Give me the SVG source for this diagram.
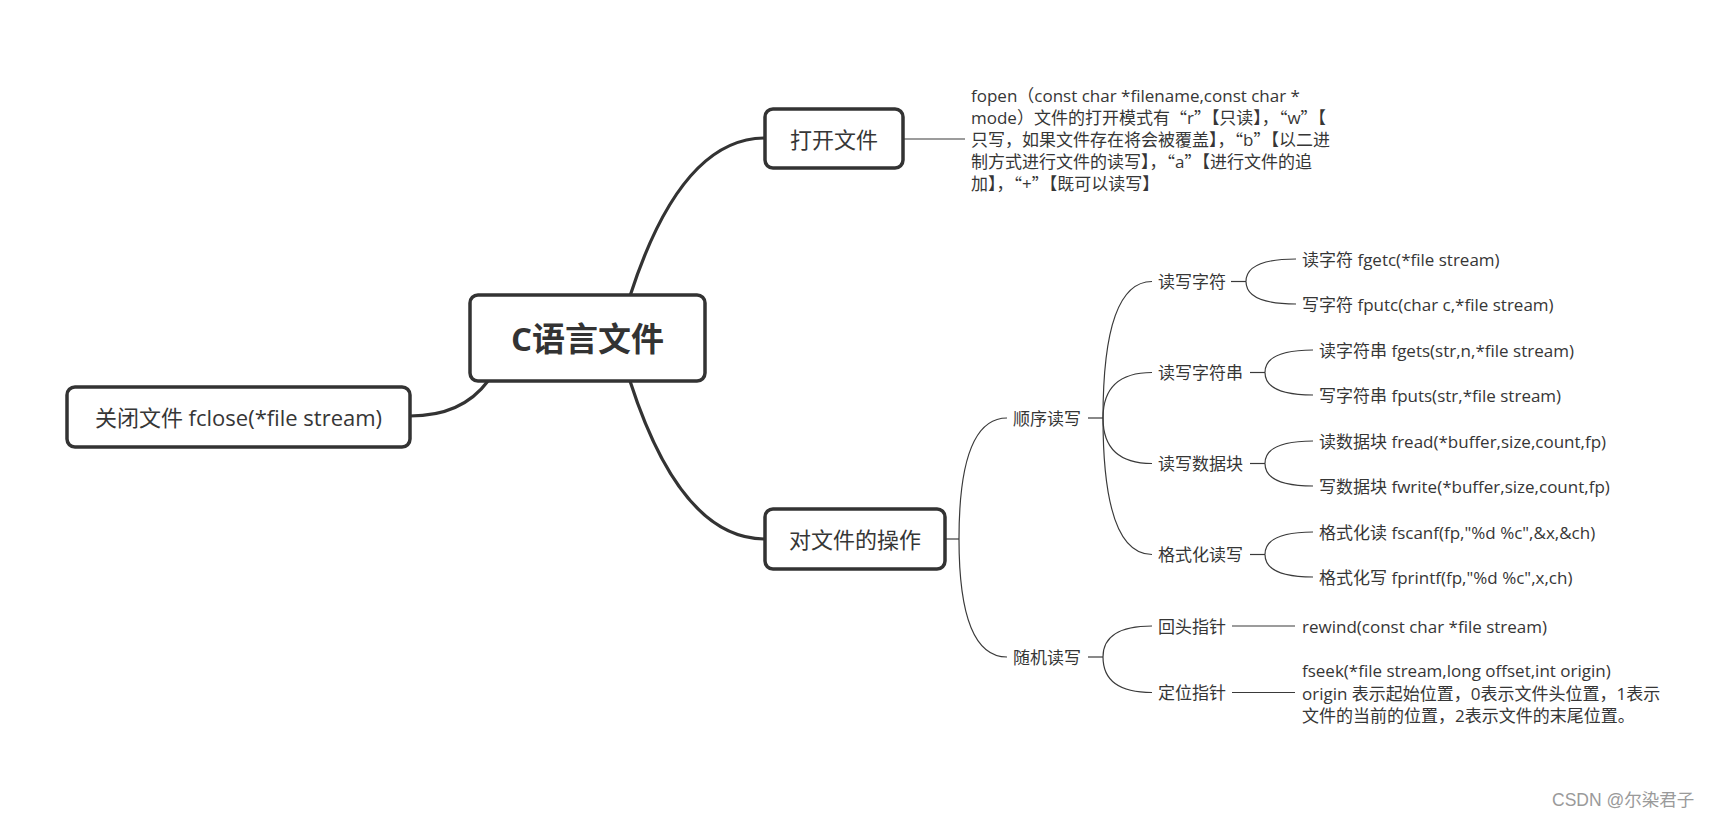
<svg xmlns="http://www.w3.org/2000/svg" width="1718" height="818" viewBox="0 0 1718 818">
<style>
text{font-family:"Open Sans","Noto Sans CJK SC",sans-serif;fill:#363636;dominant-baseline:central}
.q{font-family:"Noto Sans CJK SC",sans-serif}
.box{fill:#fff;stroke:#333;stroke-width:3.5}
.big{font-size:22px;text-anchor:middle}
.root{font-size:33px;font-weight:bold;text-anchor:middle;fill:#333}
.sm{font-size:17px}
.thick{fill:none;stroke:#333;stroke-width:3.2;stroke-linecap:round}
.thin{fill:none;stroke:#3a3a3a;stroke-width:1.2}
.wm{font-size:17.5px;fill:#9a9a9a;font-family:"Liberation Sans","Noto Sans CJK SC",sans-serif}
</style>
<rect width="1718" height="818" fill="#fff"/>
<g id="connectors">
<path class="thick" d="M630,296 Q681,138 765,138"/>
<path class="thick" d="M630,381 Q681,539 765,539"/>
<path class="thick" d="M488,381 Q462,416 410,416"/>
<path class="thin" d="M903,139 H965"/>
<path class="thin" d="M945,539 H959"/>
<path class="thin" d="M959,539 Q959,418 1007,418"/>
<path class="thin" d="M959,539 Q959,657 1007,657"/>
<path class="thin" d="M1088,418 H1103"/>
<path class="thin" d="M1103,418 Q1103,281.5 1152,281.5"/>
<path class="thin" d="M1103,418 Q1103,372.5 1152,372.5"/>
<path class="thin" d="M1103,418 Q1103,463.5 1152,463.5"/>
<path class="thin" d="M1103,418 Q1103,554.5 1152,554.5"/>
<path class="thin" d="M1088,657 H1103"/>
<path class="thin" d="M1103,657 Q1103,626 1152,626"/>
<path class="thin" d="M1103,657 Q1103,692.5 1152,692.5"/>
<path class="thin" d="M1231,281.5 H1246"/>
<path class="thin" d="M1246,281.5 Q1246,259 1296,259"/>
<path class="thin" d="M1246,281.5 Q1246,304 1296,304"/>
<path class="thin" d="M1250,372.5 H1265"/>
<path class="thin" d="M1265,372.5 Q1265,350 1313,350"/>
<path class="thin" d="M1265,372.5 Q1265,395 1313,395"/>
<path class="thin" d="M1250,463.5 H1265"/>
<path class="thin" d="M1265,463.5 Q1265,441 1313,441"/>
<path class="thin" d="M1265,463.5 Q1265,486 1313,486"/>
<path class="thin" d="M1250,554.5 H1265"/>
<path class="thin" d="M1265,554.5 Q1265,532 1313,532"/>
<path class="thin" d="M1265,554.5 Q1265,577 1313,577"/>
<path class="thin" d="M1232,626 H1295"/>
<path class="thin" d="M1232,692.5 H1295"/>
</g>
<g id="root">
<rect class="box" x="470" y="295" width="235" height="86" rx="8"/>
<text class="root" x="587.5" y="338">C语言文件</text>
</g>
<g id="open">
<rect class="box" x="765" y="109" width="138" height="59" rx="8"/>
<text class="big" x="834" y="138.5">打开文件</text>
</g>
<g id="open-detail">
<text class="sm" x="971"><tspan x="971" y="95">fopen（const char *filename,const char *</tspan><tspan x="971" y="117">mode）文件的打开模式有<tspan class="q">“</tspan>r<tspan class="q">”</tspan>【只读】，<tspan class="q">“</tspan>w<tspan class="q">”</tspan>【</tspan><tspan x="971" y="139">只写，如果文件存在将会被覆盖】，<tspan class="q">“</tspan>b<tspan class="q">”</tspan>【以二进</tspan><tspan x="971" y="161">制方式进行文件的读写】，<tspan class="q">“</tspan>a<tspan class="q">”</tspan>【进行文件的追</tspan><tspan x="971" y="183">加】，<tspan class="q">“</tspan>+<tspan class="q">”</tspan>【既可以读写】</tspan></text>
</g>
<g id="close">
<rect class="box" x="67" y="387" width="343" height="60" rx="8"/>
<text class="big" x="238.5" y="417">关闭文件 fclose(*file stream)</text>
</g>
<g id="ops">
<rect class="box" x="765" y="509" width="180" height="60" rx="8"/>
<text class="big" x="855" y="539">对文件的操作</text>
</g>
<g id="seq"><text class="sm" x="1013" y="418">顺序读写</text></g>
<g id="rand"><text class="sm" x="1013" y="657">随机读写</text></g>
<g id="rw-char"><text class="sm" x="1158" y="281.5">读写字符</text></g>
<g id="fgetc"><text class="sm" x="1302" y="259">读字符 fgetc(*file stream)</text></g>
<g id="fputc"><text class="sm" x="1302" y="304">写字符 fputc(char c,*file stream)</text></g>
<g id="rw-str"><text class="sm" x="1158" y="372.5">读写字符串</text></g>
<g id="fgets"><text class="sm" x="1319" y="350">读字符串 fgets(str,n,*file stream)</text></g>
<g id="fputs"><text class="sm" x="1319" y="395">写字符串 fputs(str,*file stream)</text></g>
<g id="rw-block"><text class="sm" x="1158" y="463.5">读写数据块</text></g>
<g id="fread"><text class="sm" x="1319" y="441">读数据块 fread(*buffer,size,count,fp)</text></g>
<g id="fwrite"><text class="sm" x="1319" y="486">写数据块 fwrite(*buffer,size,count,fp)</text></g>
<g id="rw-fmt"><text class="sm" x="1158" y="554.5">格式化读写</text></g>
<g id="fscanf"><text class="sm" x="1319" y="532">格式化读 fscanf(fp,"%d %c",&amp;x,&amp;ch)</text></g>
<g id="fprintf"><text class="sm" x="1319" y="577">格式化写 fprintf(fp,"%d %c",x,ch)</text></g>
<g id="rewind-ptr"><text class="sm" x="1158" y="626">回头指针</text></g>
<g id="rewind"><text class="sm" x="1302" y="626">rewind(const char *file stream)</text></g>
<g id="seek-ptr"><text class="sm" x="1158" y="692.5">定位指针</text></g>
<g id="fseek">
<text class="sm" x="1302"><tspan x="1302" y="670">fseek(*file stream,long offset,int origin)</tspan><tspan x="1302" y="692.5">origin 表示起始位置，0表示文件头位置，1表示</tspan><tspan x="1302" y="715">文件的当前的位置，2表示文件的末尾位置。</tspan></text>
</g>
<text class="wm" x="1552" y="800">CSDN @尔染君子</text>
</svg>
